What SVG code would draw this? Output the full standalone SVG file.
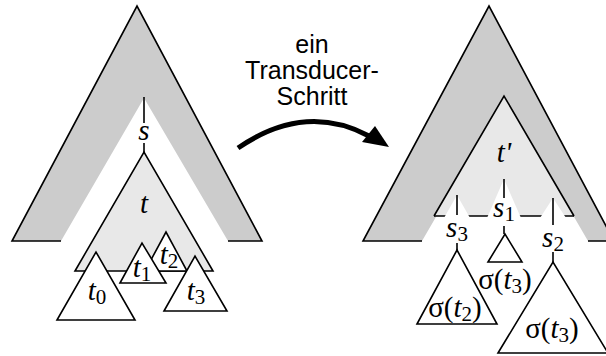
<svg xmlns="http://www.w3.org/2000/svg" width="606" height="356" viewBox="0 0 606 356">
<defs>
<style>
.chev{fill:#cccccc;stroke:none}
.edge{fill:none;stroke:#000;stroke-width:1.6;stroke-linejoin:miter}
.light{fill:#e8e8e8;stroke:#000;stroke-width:1.6;stroke-linejoin:miter}
.tri{fill:#fff;stroke:#000;stroke-width:1.6;stroke-linejoin:miter}
.ln{stroke:#000;stroke-width:1.6;fill:none}
.notch{fill:#fff;stroke:none}
.lab{font-family:"Liberation Serif","Times New Roman",serif;font-size:29px;fill:#000;text-anchor:middle}
.it{font-style:italic}
.sub{font-size:21px;font-style:normal}
.sans{font-family:"Liberation Sans",Arial,sans-serif;font-size:25px;fill:#000;text-anchor:middle}
</style>
</defs>

<g id="left-tree">
<g id="left-context">
<path class="chev" d="M12,241 L137,6 L262,241 L228,241 L144,98 L61,241 Z"/>
<path class="edge" d="M61,241 L12,241 L137,6 L262,241 L228,241"/>
</g>
<g id="node-t">
<path class="light" d="M75,271 L144,152 L213,271 Z"/>
<text class="lab it" x="144" y="213">t</text>
</g>
<g id="node-s">
<line class="ln" x1="144" y1="97" x2="144" y2="123"/>
<line class="ln" x1="144" y1="143" x2="144" y2="152"/>
<text class="lab it" x="144" y="140">s</text>
</g>
<g id="node-t2">
<path class="tri" d="M145,271 L166,232 L187,271 Z"/>
<text class="lab" x="169" y="264"><tspan class="it">t</tspan><tspan class="sub" dy="4">2</tspan></text>
</g>
<g id="node-t1">
<path class="tri" d="M120,283 L142,243 L166,283 Z"/>
<text class="lab" x="142" y="277"><tspan class="it">t</tspan><tspan class="sub" dy="4">1</tspan></text>
</g>
<g id="node-t3">
<path class="tri" d="M164,311 L195,256 L227,311 Z"/>
<text class="lab" x="196" y="300"><tspan class="it">t</tspan><tspan class="sub" dy="4">3</tspan></text>
</g>
<g id="node-t0">
<path class="tri" d="M57,320 L96,252 L135,320 Z"/>
<text class="lab" x="97" y="300"><tspan class="it">t</tspan><tspan class="sub" dy="4">0</tspan></text>
</g>
</g>

<g id="label">
<text class="sans" x="312" y="53">ein</text>
<text class="sans" x="312" y="79">Transducer-</text>
<text class="sans" x="312" y="105">Schritt</text>
</g>

<g id="connectors">
<path d="M238,148 Q305,102 369,136" fill="none" stroke="#000" stroke-width="5"/>
<path d="M389,147 L375,126 L362,142 Z" fill="#000"/>
</g>

<g id="right-tree">
<g id="right-context">
<path class="chev" d="M363,241 L489,6 L614,241 L588,241 L505,98 L422,241 Z"/>
<path class="edge" d="M422,241 L363,241 L489,6 L614,241 L588,241"/>
</g>
<g id="node-tprime">
<path d="M434,216 L504,96 L574,216 Z" fill="#e8e8e8"/>
<path class="edge" d="M434,216 L504,96 L574,216"/>
<line class="ln" x1="434" y1="216" x2="574" y2="216"/>
<path class="notch" d="M457,195 L444,218 L470,218 Z"/>
<path class="notch" d="M504,179 L487,218 L521,218 Z"/>
<path class="notch" d="M553,198 L540,218 L566,218 Z"/>
<text class="lab it" x="504" y="162">t'</text>
</g>
<g id="node-s3">
<line class="ln" x1="457" y1="195" x2="457" y2="215"/>
<line class="ln" x1="457" y1="243" x2="457" y2="250"/>
<text class="lab" x="457" y="237"><tspan class="it">s</tspan><tspan class="sub" dy="4">3</tspan></text>
</g>
<g id="node-s1">
<line class="ln" x1="504" y1="179" x2="504" y2="198"/>
<line class="ln" x1="504" y1="226" x2="504" y2="234"/>
<text class="lab" x="504" y="217"><tspan class="it">s</tspan><tspan class="sub" dy="4">1</tspan></text>
</g>
<g id="node-s2">
<line class="ln" x1="553" y1="198" x2="553" y2="225"/>
<line class="ln" x1="553" y1="252" x2="553" y2="262"/>
<text class="lab" x="553" y="247"><tspan class="it">s</tspan><tspan class="sub" dy="4">2</tspan></text>
</g>
<g id="node-sig-t3-small">
<path class="tri" d="M488,262 L505,234 L522,262 Z"/>
<text class="lab" x="505" y="289">σ(<tspan class="it">t</tspan><tspan class="sub" dy="4">3</tspan><tspan dy="-4">)</tspan></text>
</g>
<g id="node-sig-t2">
<path class="tri" d="M417,324 L457,250 L497,324 Z"/>
<text class="lab" x="455" y="317">σ(<tspan class="it">t</tspan><tspan class="sub" dy="4">2</tspan><tspan dy="-4">)</tspan></text>
</g>
<g id="node-sig-t3-large">
<path class="tri" d="M498,353 L553,262 L608,353 Z"/>
<text class="lab" x="552" y="338">σ(<tspan class="it">t</tspan><tspan class="sub" dy="4">3</tspan><tspan dy="-4">)</tspan></text>
</g>
</g>
</svg>
